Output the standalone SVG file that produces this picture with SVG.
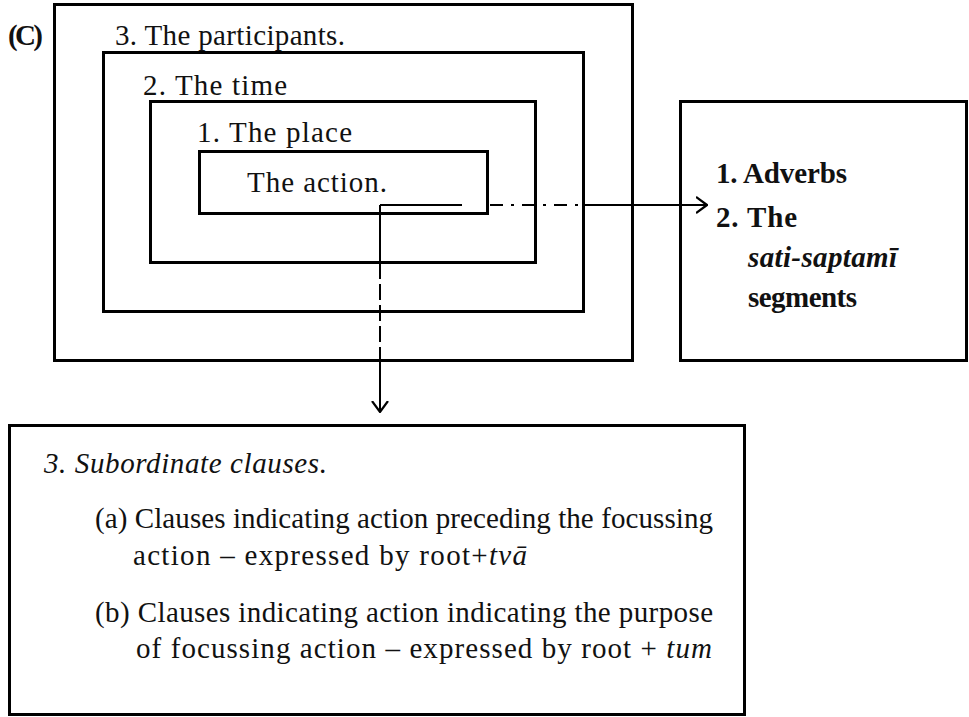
<svg xmlns="http://www.w3.org/2000/svg" width="969" height="717" viewBox="0 0 969 717">
<style>
.box{fill:none;stroke:#000;stroke-width:3}
.t{font-family:"Liberation Serif","Times New Roman",serif;fill:#111;font-size:29px}
.b{font-weight:bold}
.i{font-style:italic}
.ln{fill:none;stroke:#000;stroke-width:2}
.dash1{stroke-dasharray:13,8,3,8}
.dash2{stroke-dasharray:16,5}
</style>
<defs>
<marker id="arr" viewBox="0 0 12 18" refX="11" refY="9" markerWidth="12" markerHeight="18" markerUnits="userSpaceOnUse" orient="auto">
<path d="M0,1 L11,9 L0,17" fill="none" stroke="#000" stroke-width="2.2"/>
</marker>
</defs>
<rect width="969" height="717" fill="#fff"/>
<g id="label-c"><text class="t b" x="8" y="45" font-size="26" textLength="35">(C)</text></g>
<g id="participants">
<rect class="box" x="54.5" y="4.5" width="578" height="356"/>
<text class="t" x="115" y="45" font-size="30" textLength="230">3. The participants.</text>
</g>
<g id="time">
<rect class="box" x="103.5" y="52.5" width="480" height="259"/>
<text class="t" x="143" y="95" font-size="30" textLength="144">2. The time</text>
</g>
<g id="place">
<rect class="box" x="150.5" y="101.5" width="385" height="161"/>
<text class="t" x="197" y="142" font-size="30" textLength="155">1. The place</text>
</g>
<g id="action">
<rect class="box" x="199.5" y="151.5" width="288" height="62"/>
<text class="t" x="247" y="192" font-size="30" textLength="140">The action.</text>
</g>
<g id="adverbs">
<rect class="box" x="680.5" y="101.5" width="286" height="259"/>
<text class="t b" x="716" y="183" font-size="26" textLength="131">1. Adverbs</text>
<text class="t b" x="716" y="227" font-size="26" textLength="81">2. The</text>
<text class="t b i" x="748" y="267" font-size="26" textLength="149">sati-saptamī</text>
<text class="t b" x="748" y="307" font-size="26" textLength="109">segments</text>
</g>
<g id="subordinate">
<rect class="box" x="9.5" y="425.5" width="735" height="289"/>
<text class="t i" x="44" y="473" textLength="283">3. Subordinate clauses.</text>
<text class="t" x="95" y="528" textLength="618">(a) Clauses indicating action preceding the focussing</text>
<text class="t" x="133" y="565" textLength="394">action – expressed by root+<tspan class="i">tvā</tspan></text>
<text class="t" x="95" y="622" textLength="618">(b) Clauses indicating action indicating the purpose</text>
<text class="t" x="136" y="658" textLength="576">of focussing action – expressed by root + <tspan class="i">tum</tspan></text>
</g>
<g id="connectors">
<path class="ln" d="M380,205 H462"/>
<path class="ln dash1" d="M490,205 H583"/>
<path class="ln" d="M583,205 H707" marker-end="url(#arr)"/>
<path class="ln" d="M380,205 V263"/>
<path class="ln dash2" d="M380,263 V361"/>
<path class="ln" d="M380,361 V412" marker-end="url(#arr)"/>
</g>
</svg>
